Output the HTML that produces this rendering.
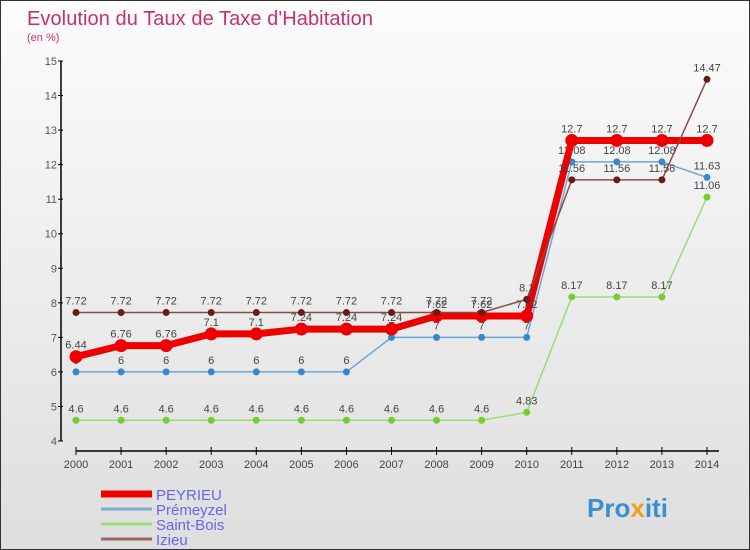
<!DOCTYPE html>
<html><head><meta charset="utf-8"><style>
body{margin:0}
#c{width:750px;height:550px;position:relative;background:linear-gradient(#fcfcfc,#dedede);box-sizing:border-box;border:1px solid #333;overflow:hidden;font-family:"Liberation Sans",sans-serif}
svg{position:absolute;left:0;top:0}
</style></head><body>
<div id="c">
<svg id="s" width="750" height="550">
<text x="26" y="24" font-size="20" fill="#c8306a" textLength="346">Evolution du Taux de Taxe d'Habitation</text>
<text x="26" y="40" font-size="11" fill="#c8306a">(en %)</text>
<text x="586" y="516" font-size="26" font-weight="bold" fill="#3a8fd0">Pro<tspan fill="#f0a020">x</tspan>iti</text>
</svg>
</div>
<script>
const years=[2000,2001,2002,2003,2004,2005,2006,2007,2008,2009,2010,2011,2012,2013,2014];
const peyrieu=[6.44,6.76,6.76,7.1,7.1,7.24,7.24,7.24,7.62,7.62,7.62,12.7,12.7,12.7,12.7];
const premeyzel=[6,6,6,6,6,6,6,7,7,7,7,12.08,12.08,12.08,11.63];
const saintBois=[4.6,4.6,4.6,4.6,4.6,4.6,4.6,4.6,4.6,4.6,4.83,8.17,8.17,8.17,11.06];
const izieu=[7.72,7.72,7.72,7.72,7.72,7.72,7.72,7.72,7.72,7.72,8.1,11.56,11.56,11.56,14.47];
const yTicks=[4,5,6,7,8,9,10,11,12,13,14,15];
const seriesNames=["PEYRIEU","Prémeyzel","Saint-Bois","Izieu"];

const NS="http://www.w3.org/2000/svg";
const svg=document.getElementById('s');
const X=i=>75+i*(706-75)/(years.length-1);
const Y=v=>440-(v-4)*(380/11);
function el(t,a,p){const e=document.createElementNS(NS,t);for(const k in a)e.setAttribute(k,a[k]);(p||svg).appendChild(e);return e;}

const ax=el('line',{x1:60,y1:60,x2:60,y2:440,stroke:'#000','stroke-width':1.5});


const xa=el('line',{x1:75,y1:450,x2:718,y2:450,stroke:'#000','stroke-width':1.5});


yTicks.forEach(v=>{
  el('line',{x1:57,y1:Y(v),x2:62,y2:Y(v),stroke:'#000'});
  if(v<15) el('line',{x1:59,y1:Y(v+0.5),x2:61,y2:Y(v+0.5),stroke:'#d00'});
  const t=el('text',{x:56,y:Y(v)+4,'font-size':11,fill:'#555','text-anchor':'end'});
  t.textContent=v;
  
  
});
years.forEach((y,i)=>{
  el('line',{x1:X(i),y1:446,x2:X(i),y2:454,stroke:'#000'});
  const t=el('text',{x:X(i),y:467,'font-size':11,fill:'#444','text-anchor':'middle'});
  t.textContent=y;
  
  
});
function series(data,color,w,r,dot,name){
  const g=el('g',{});
  
  
  el('polyline',{points:data.map((v,i)=>X(i)+','+Y(v)).join(' '),fill:'none',stroke:color,'stroke-width':w,'stroke-linejoin':'round'},g);
  data.forEach((v,i)=>{
    const c=el('circle',{cx:X(i),cy:Y(v),r:r,fill:dot},g);
    
    
    const t=el('text',{x:X(i),y:Y(v)-8,'font-size':11,fill:'#444','text-anchor':'middle'},g);
    t.textContent=v;
  });
}
series(saintBois,'#99dd77',1.5,3.5,'#77cc33','saint-bois-series');
series(premeyzel,'#6aa8d8',1.5,3.5,'#3a88cc','premeyzel-series');
series(peyrieu,'#ee0000',7,6.5,'#ee0000','peyrieu-series');
series(izieu,'#8b4a4a',1.5,3.5,'#6a1a1a','izieu-series');

const cols=['#ee0000','#7aaed0','#99dd77','#996666'],ws=[7,3,3,3];
seriesNames.forEach((n,i)=>{
  const y=493+i*15;
  const l=el('line',{x1:100,y1:y,x2:151,y2:y,stroke:cols[i],'stroke-width':ws[i]});
  
  
  const t=el('text',{x:155,y:y+6,'font-size':15,fill:'#6666ee'});
  t.textContent=n;
  
  
});
</script>
</body></html>
